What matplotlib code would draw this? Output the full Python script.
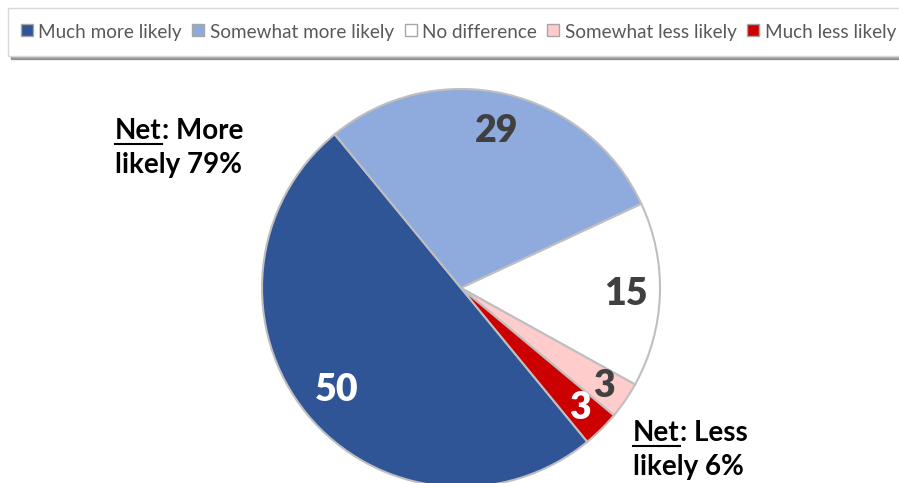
import matplotlib
matplotlib.use("Agg")
import matplotlib.pyplot as plt
from matplotlib.lines import Line2D
import numpy as np

plt.rcParams['font.family'] = ['Lato', 'DejaVu Sans']

categories = ["Much more likely", "Somewhat more likely", "No difference",
              "Somewhat less likely", "Much less likely"]
values = [50, 29, 15, 3, 3]
colors = ["#2F5597", "#8FAADC", "#FFFFFF", "#FFCCCC", "#CC0000"]
label_colors = ["white", "#404040", "#404040", "#404040", "white"]
label_dist = [0.81, 0.81, 0.83, 0.87, 0.85]
net_more = 79
net_less = 6

W, H = 899, 483
fig = plt.figure(figsize=(W / 100, H / 100), dpi=100)
ax = fig.add_axes([0, 0, 1, 1])

cx, cy, R = 461, H - 288, 199
wedges, _ = ax.pie(values, colors=colors, startangle=-50.6, counterclock=False,
                   center=(cx, cy), radius=R, frame=True,
                   wedgeprops=dict(edgecolor="#BFBFBF", linewidth=1.5))
ax.set_xlim(0, W)
ax.set_ylim(0, H)
ax.set_aspect("equal")
ax.axis("off")

for w, v, c, d in zip(wedges, values, label_colors, label_dist):
    ang = np.deg2rad((w.theta1 + w.theta2) / 2)
    ax.text(cx + d * R * np.cos(ang), cy + d * R * np.sin(ang), str(v),
            ha="center", va="center", fontsize=27, fontweight="heavy", color=c)

# net annotations, "Net" underlined
renderer = fig.canvas.get_renderer()
def net_label(x, y, rest, line2):
    t = ax.text(x, y, "Net", fontsize=20, fontweight="bold", color="black",
                ha="left", va="baseline")
    ax.annotate(rest, xy=(1, 0), xycoords=t, fontsize=20, fontweight="bold",
                color="black", ha="left", va="bottom")
    ax.text(x, y - 34, line2, fontsize=20, fontweight="bold", color="black",
            ha="left", va="baseline")
    bb = t.get_window_extent(renderer).transformed(ax.transData.inverted())
    ax.add_line(Line2D([bb.x0, bb.x1], [y - 5, y - 5], color="black", lw=1.5))

net_label(115, H - 139, ": More", "likely %d%%" % net_more)
net_label(633, H - 441, ": Less", "likely %d%%" % net_less)

handles = [Line2D([], [], linestyle="none", marker="s", markersize=8,
                  markerfacecolor=c, markeredgecolor="#A6A6A6",
                  markeredgewidth=1) for c in colors]
leg = fig.legend(handles, categories, loc="upper left",
                 bbox_to_anchor=(8 / W, 1 - 8 / H), borderaxespad=0,
                 ncol=5, fontsize=13.6, frameon=True, fancybox=False,
                 shadow=True, handlelength=0.6, handleheight=1.4,
                 handletextpad=0.3, columnspacing=0.58, borderpad=0.7,
                 labelcolor="#595959")
leg.get_frame().set_edgecolor("#D9D9D9")
leg.get_frame().set_linewidth(1)

fig.savefig("out.png", dpi=100)
